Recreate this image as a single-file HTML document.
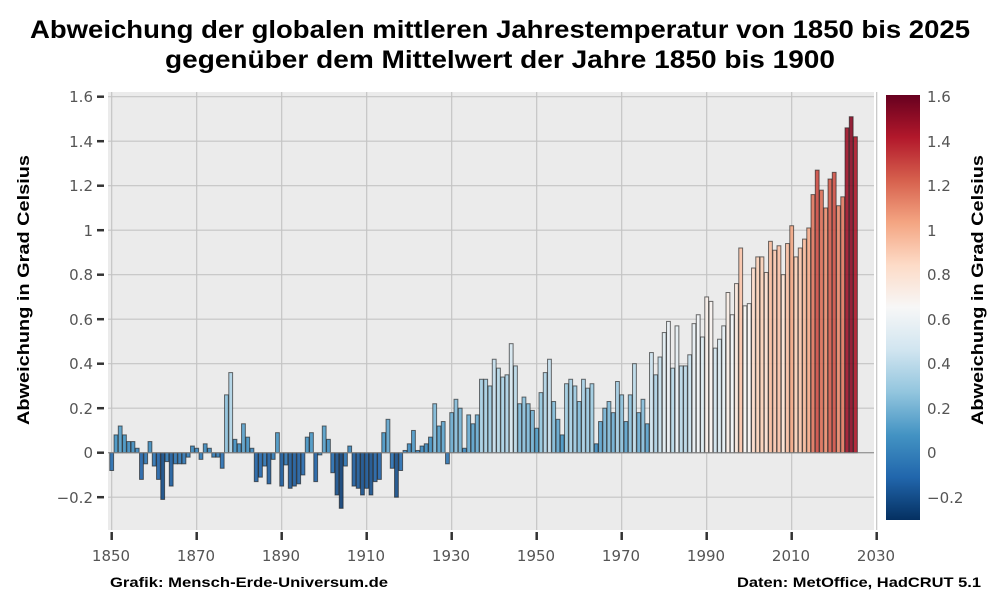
<!DOCTYPE html>
<html><head><meta charset="utf-8"><style>
html,body{margin:0;padding:0;background:#fff;}
body{width:1000px;height:601px;overflow:hidden;font-family:"Liberation Sans",sans-serif;}
</style></head><body>
<svg id="s" width="1000" height="601" xmlns="http://www.w3.org/2000/svg" font-family="Liberation Sans, sans-serif">
<defs>
<linearGradient id="cb" x1="0" y1="1" x2="0" y2="0">
<stop offset="0" stop-color="#053061"/><stop offset="0.1" stop-color="#2166ac"/><stop offset="0.2" stop-color="#4393c3"/><stop offset="0.3" stop-color="#92c5de"/><stop offset="0.4" stop-color="#d1e5f0"/><stop offset="0.5" stop-color="#f7f7f7"/><stop offset="0.6" stop-color="#fddbc7"/><stop offset="0.7" stop-color="#f4a582"/><stop offset="0.8" stop-color="#d6604d"/><stop offset="0.9" stop-color="#b2182b"/><stop offset="1" stop-color="#67001f"/>
</linearGradient>
</defs>
<text x="30" y="38" textLength="940" lengthAdjust="spacingAndGlyphs" font-size="25" font-weight="bold" fill="#000">Abweichung der globalen mittleren Jahrestemperatur von 1850 bis 2025</text>
<text x="165" y="68" textLength="670" lengthAdjust="spacingAndGlyphs" font-size="25" font-weight="bold" fill="#000">gegenüber dem Mittelwert der Jahre 1850 bis 1900</text>
<rect x="108" y="92" width="766" height="438" fill="#ebebeb"/>
<g id="grid" stroke="#c4c4c4" stroke-width="1.2"></g>
<g id="bars"></g>
<g id="ticks" stroke="#333" stroke-width="2.5"></g>
<g font-size="15" fill="#555" text-anchor="end" font-family="DejaVu Sans, sans-serif">
<text x="93" y="102">1.6</text><text x="93" y="147">1.4</text><text x="93" y="191">1.2</text><text x="93" y="236">1</text><text x="93" y="280">0.8</text><text x="93" y="325">0.6</text><text x="93" y="369">0.4</text><text x="93" y="414">0.2</text><text x="93" y="458">0</text><text x="93" y="503">−0.2</text>
</g>
<g font-size="15" fill="#555" text-anchor="middle" font-family="DejaVu Sans, sans-serif">
<text x="111" y="561">1850</text><text x="196" y="561">1870</text><text x="281" y="561">1890</text><text x="366" y="561">1910</text><text x="451" y="561">1930</text><text x="536" y="561">1950</text><text x="621" y="561">1970</text><text x="706" y="561">1990</text><text x="791" y="561">2010</text><text x="876" y="561">2030</text>
</g>
<text transform="translate(29,290) rotate(-90)" x="-135" y="0" textLength="270" lengthAdjust="spacingAndGlyphs" font-size="17" font-weight="bold">Abweichung in Grad Celsius</text>
<text transform="translate(983,290) rotate(-90)" x="-135" y="0" textLength="270" lengthAdjust="spacingAndGlyphs" font-size="17" font-weight="bold">Abweichung in Grad Celsius</text>
<rect x="886" y="95" width="34" height="425" fill="url(#cb)"/>
<g font-size="15" fill="#555" font-family="DejaVu Sans, sans-serif">
<text x="927" y="102">1.6</text><text x="927" y="147">1.4</text><text x="927" y="191">1.2</text><text x="927" y="236">1</text><text x="927" y="280">0.8</text><text x="927" y="325">0.6</text><text x="927" y="369">0.4</text><text x="927" y="414">0.2</text><text x="927" y="458">0</text><text x="927" y="503">−0.2</text>
</g>
<text x="110" y="587" textLength="278" lengthAdjust="spacingAndGlyphs" font-size="14" font-weight="bold">Grafik: Mensch-Erde-Universum.de</text>
<text x="737" y="587" textLength="244" lengthAdjust="spacingAndGlyphs" font-size="14" font-weight="bold">Daten: MetOffice, HadCRUT 5.1</text>
</svg>
<script>
var v=[-0.08,0.08,0.12,0.08,0.05,0.05,0.02,-0.12,-0.05,0.05,-0.06,-0.12,-0.21,-0.04,-0.15,-0.05,-0.05,-0.05,-0.02,0.03,0.02,-0.03,0.04,0.02,-0.02,-0.02,-0.07,0.26,0.36,0.06,0.04,0.13,0.07,0.02,-0.13,-0.11,-0.06,-0.14,-0.03,0.09,-0.15,-0.055,-0.16,-0.15,-0.14,-0.10,0.07,0.09,-0.13,-0.01,0.12,0.06,-0.09,-0.19,-0.25,-0.06,0.03,-0.15,-0.16,-0.19,-0.16,-0.19,-0.13,-0.12,0.09,0.15,-0.07,-0.20,-0.08,0.01,0.04,0.10,0.01,0.03,0.04,0.07,0.22,0.12,0.14,-0.05,0.18,0.24,0.20,0.02,0.17,0.13,0.17,0.33,0.33,0.30,0.42,0.38,0.34,0.35,0.49,0.39,0.22,0.25,0.22,0.19,0.11,0.27,0.36,0.42,0.23,0.15,0.08,0.31,0.33,0.30,0.23,0.33,0.29,0.31,0.04,0.14,0.20,0.23,0.18,0.32,0.26,0.14,0.26,0.40,0.18,0.24,0.13,0.45,0.35,0.43,0.54,0.59,0.38,0.57,0.39,0.39,0.44,0.58,0.62,0.52,0.70,0.68,0.47,0.51,0.57,0.72,0.62,0.76,0.92,0.66,0.67,0.83,0.88,0.88,0.81,0.95,0.91,0.93,0.80,0.94,1.02,0.88,0.92,0.96,1.01,1.16,1.27,1.18,1.10,1.23,1.26,1.11,1.15,1.46,1.51,1.42];
var st=[[0,[5,48,97]],[.1,[33,102,172]],[.2,[67,147,195]],[.3,[146,197,222]],[.4,[209,229,240]],[.5,[247,247,247]],[.6,[253,219,199]],[.7,[244,165,130]],[.8,[214,96,77]],[.9,[178,24,43]],[1,[103,0,31]]];
function col(x){var t=(x+0.3)/1.9;t=Math.max(0,Math.min(1,t));for(var i=1;i<st.length;i++){if(t<=st[i][0]){var a=st[i-1],b=st[i],f=(t-a[0])/(b[0]-a[0]);return 'rgb('+[0,1,2].map(function(k){return Math.round(a[1][k]+(b[1][k]-a[1][k])*f)}).join(',')+')';}}return 'rgb(103,0,31)';}
var NS='http://www.w3.org/2000/svg';
function el(p,n,a){var e=document.createElementNS(NS,n);for(var k in a)e.setAttribute(k,a[k]);p.appendChild(e);return e;}
var X=function(y){return 111.7+(y-1850)*4.25},Y=function(v){return 452.7-v*222.5};
var g=document.getElementById('grid');
for(var yr=1850;yr<=2030;yr+=20)el(g,'line',{x1:X(yr),x2:X(yr),y1:92,y2:530});
for(var k=-1;k<=8;k++)el(g,'line',{x1:108,x2:874,y1:Y(k*0.2),y2:Y(k*0.2)});
var b=document.getElementById('bars');
v.forEach(function(val,i){var x=X(1850+i)-1.9,y0=Y(Math.max(val,0)),h=Math.abs(val)*222.5;
el(b,'rect',{x:x,y:y0,width:3.8,height:Math.max(h,0.5),fill:col(val),'fill-opacity':0.9,stroke:'rgba(30,30,30,0.65)','stroke-width':1});});
el(b,'line',{x1:108,x2:874,y1:452.7,y2:452.7,stroke:'#888','stroke-width':1});
var t=document.getElementById('ticks');
for(var yr=1850;yr<=2030;yr+=20)el(t,'line',{x1:X(yr),x2:X(yr),y1:532,y2:540});
for(var k=-1;k<=8;k++)el(t,'line',{x1:97,x2:104,y1:Y(k*0.2),y2:Y(k*0.2)});
</script>
</body></html>
